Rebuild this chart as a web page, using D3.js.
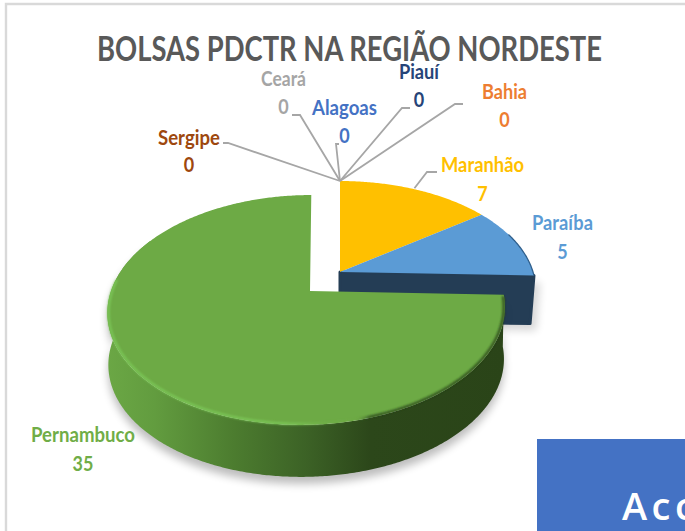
<!DOCTYPE html>
<html>
<head>
<meta charset="utf-8">
<script src="https://cdn.jsdelivr.net/npm/d3@7/dist/d3.min.js"></script>
<style>
html,body{margin:0;padding:0;background:#fff;overflow:hidden}
svg{display:block}
text{font-family:Lato,"Open Sans",sans-serif}
</style>
</head>
<body>
<svg id="chart" width="685" height="531"></svg>
<script>
// ---- data ----
const titleText = "BOLSAS PDCTR NA REGIÃO NORDESTE";
const categories = ["Alagoas","Bahia","Ceará","Maranhão","Paraíba","Pernambuco","Piauí","Sergipe"];
const values = [0,0,0,7,5,35,0,0];
const colors = ["#4472C4","#ED7D31","#A5A5A5","#FFC000","#5B9BD5","#6DAA45","#264478","#9E480E"];
const labelColors = ["#4472C4","#ED7D31","#A5A5A5","#FFC000","#5B9BD5","#70AD47","#264478","#9E480E"];
const cornerText = "Acc";

// ---- layout (not data) ----
const W = 685, H = 531, tilt = 0.165;
const backCentre = {x:340, apexX:340, y:272, rx:193, ry:106, depth:48, narrow:0.98, skew:0};
const pulledCentre = {x:307, apexX:310, y:291, rx:196, ry:111.8, depth:52, narrow:0.995, skew:5};
const labelCentreX = [344.5,504.5,283.5,482.5,562.5,83,419,189];
const labelBaseY   = [115,99,86,172,230,442,79,145];
const valueBaseY   = [143,127,114,201,259,471,107,172];
const labelWidths  = [65,45,45,83,61,104,40,62];
const leaderEnds = [
  [[336,144],[339,144]],
  [[455,104],[463,104]],
  [[300,115],[292,115]],
  null, null, null,
  [[402,108],[410,108]],
  [[228,143],[223,143]]
];

const svg = d3.select("#chart");
const defs = svg.append("defs");
defs.append("filter").attr("id","soft").attr("x","-20%").attr("y","-20%").attr("width","140%").attr("height","140%")
  .append("feGaussianBlur").attr("stdDeviation",4.5);
defs.append("filter").attr("id","small").attr("x","-100%").attr("y","-20%").attr("width","300%").attr("height","140%")
  .append("feGaussianBlur").attr("stdDeviation",1.6);
defs.append("filter").attr("id","rim").attr("filterUnits","userSpaceOnUse").attr("x",0).attr("y",0).attr("width",W).attr("height",H)
  .append("feGaussianBlur").attr("stdDeviation",1);

const sideGrad = defs.append("linearGradient").attr("id","greenSide").attr("gradientUnits","userSpaceOnUse")
  .attr("x1",107).attr("x2",505).attr("y1",0).attr("y2",0);
[[0,"#6BA745"],[0.12,"#629C3F"],[0.32,"#4C7C2F"],[0.5,"#3C6226"],[0.66,"#2C471A"],[1,"#2A4418"]]
  .forEach(s=>sideGrad.append("stop").attr("offset",s[0]).attr("stop-color",s[1]));
const rimGrad = defs.append("linearGradient").attr("id","greenRim").attr("gradientUnits","userSpaceOnUse")
  .attr("x1",107).attr("x2",505).attr("y1",0).attr("y2",0);
[[0,"#7CC858",1],[0.45,"#7CC858",1],[0.62,"#70AD47",0],[0.66,"#26401A",0.9],[1,"#26401A",0.9]]
  .forEach(s=>rimGrad.append("stop").attr("offset",s[0]).attr("stop-color",s[1]).attr("stop-opacity",s[2]));

// frame and corner box
svg.append("path").attr("d",`M${W+2},4H6V${H+2}`).attr("fill","none").attr("stroke","#D9D9D9").attr("stroke-width",2.4);
svg.append("rect").attr("x",537).attr("y",439).attr("width",148).attr("height",92).attr("fill","#4472C4");
svg.append("text").attr("x",622).attr("y",520).attr("fill","#fff").attr("font-size",38).attr("font-weight",600)
  .attr("letter-spacing",4.5).style("font-family","'Open Sans',sans-serif").text(cornerText);

// title
svg.append("text").attr("x",97).attr("y",61)
  .attr("font-size",34).attr("font-weight",700).attr("fill","#595959")
  .attr("textLength",505).attr("lengthAdjust","spacingAndGlyphs").text(titleText);

// pie
const slices = d3.pie().sort(null).value(d=>d)(values);
function project(c, angle, r=1, drop=0, narrow=1){
  const a = Math.sin(angle)*r, b = -Math.cos(angle)*r, w = 1/(1-tilt*b);
  return [c.x+(c.rx*a*narrow-c.skew*b)*w, c.y+c.ry*b*w+drop];
}
const line = d3.line();
function sample(a0,a1){
  const n = Math.max(2,Math.ceil(Math.abs(a1-a0)/0.01));
  return d3.range(n+1).map(i=>a0+(a1-a0)*i/n);
}
function topFace(c,s){
  return line([[c.apexX,c.y],...sample(s.startAngle,s.endAngle).map(t=>project(c,t))])+"Z";
}
function sidePath(c,a0,a1){
  const ts = sample(a0,a1);
  const up = ts.map(t=>project(c,t));
  const dn = ts.slice().reverse().map(t=>project(c,t,1,c.depth,c.narrow));
  return line([...up,...dn])+"Z";
}
const visible = slices.map((s,i)=>({s,i})).filter(d=>d.s.value>0);
const big = visible.find(d=>d.s.value===d3.max(values));
const back = visible.filter(d=>d!==big);
const lastBack = back[back.length-1];

// back wedges: shadow + cut face
const cutEnd = lastBack.s.endAngle;
const cutPts = [[backCentre.x,backCentre.y],project(backCentre,cutEnd),
  project(backCentre,cutEnd,1,backCentre.depth,backCentre.narrow),[backCentre.x,backCentre.y+backCentre.depth]];
svg.append("path").attr("d",line(cutPts)+"Z").attr("transform","translate(6,7)")
  .attr("fill","#000").attr("opacity",0.16).attr("filter","url(#soft)");
svg.append("path").attr("d",line(cutPts)+"Z").attr("fill","#243D55").attr("stroke","#243D55")
  .attr("stroke-width",3).attr("stroke-linejoin","round");

back.forEach(d=>{
  svg.append("path").attr("d",topFace(backCentre,d.s)).attr("fill",colors[d.i]);
});
// thin dark rim on the last back wedge
svg.append("path").attr("d",line(sample(lastBack.s.startAngle+0.25,cutEnd).map(t=>project(backCentre,t))))
  .attr("fill","none").attr("stroke","#2F5F8C").attr("stroke-width",1.3);

// soft shadow beside the gap
svg.append("path").attr("d",line([project(backCentre,0,0.58),[backCentre.x,backCentre.y]]))
  .attr("transform","translate(-2,0)").attr("stroke","#BBB").attr("stroke-width",3).attr("filter","url(#small)").attr("fill","none");
svg.append("path").attr("d",line([[pulledCentre.apexX,pulledCentre.y-42],[pulledCentre.apexX,pulledCentre.y]]))
  .attr("transform","translate(3,0)").attr("stroke","#BBB").attr("stroke-width",3).attr("filter","url(#small)").attr("fill","none");

// big pulled-out wedge
const c = pulledCentre, bigS = big.s;
const sideEnd = Math.min(bigS.endAngle, Math.PI*1.66);
svg.append("path").attr("d",sidePath(c,bigS.startAngle,sideEnd)).attr("transform","translate(0,7)")
  .attr("fill","#000").attr("opacity",0.26).attr("filter","url(#soft)");
svg.append("path").attr("d",sidePath(c,bigS.startAngle,sideEnd)).attr("fill","url(#greenSide)");
svg.append("path").attr("d",topFace(c,bigS)).attr("fill",colors[big.i]);
svg.append("path").attr("d",line(sample(bigS.startAngle+0.02,Math.PI*1.53).map(t=>project(c,t,0.994))))
  .attr("fill","none").attr("stroke","url(#greenRim)").attr("stroke-width",2.2).attr("stroke-linecap","round").attr("filter","url(#rim)");

// leader lines
const apex = [backCentre.x,backCentre.y-backCentre.ry/(1+tilt)];
const leaders = svg.append("g").attr("fill","none").attr("stroke","#A6A6A6").attr("stroke-width",1.8);
categories.forEach((_,i)=>{
  if(leaderEnds[i]) leaders.append("path").attr("d",line([apex,...leaderEnds[i]]));
});
// Maranhão leader starts on the wedge's rim
const mar = slices[categories.indexOf("Maranhão")];
const rimPt = project(backCentre,(mar.startAngle+mar.endAngle)/2*0.98);
leaders.append("path").attr("d",line([[rimPt[0],rimPt[1]-1],[427,172],[437,172]]));

// labels
categories.forEach((name,i)=>{
  const g = svg.append("g").attr("text-anchor","middle").attr("font-weight",700).attr("font-size",20).attr("fill",labelColors[i]);
  g.append("text").attr("x",labelCentreX[i]).attr("y",labelBaseY[i])
    .attr("textLength",labelWidths[i]).attr("lengthAdjust","spacingAndGlyphs").text(name);
  g.append("text").attr("x",labelCentreX[i]).attr("y",valueBaseY[i]).attr("transform-origin",`${labelCentreX[i]} ${valueBaseY[i]}`)
    .attr("transform","scale(0.9,1)").text(values[i]);
});
</script>
</body>
</html>
